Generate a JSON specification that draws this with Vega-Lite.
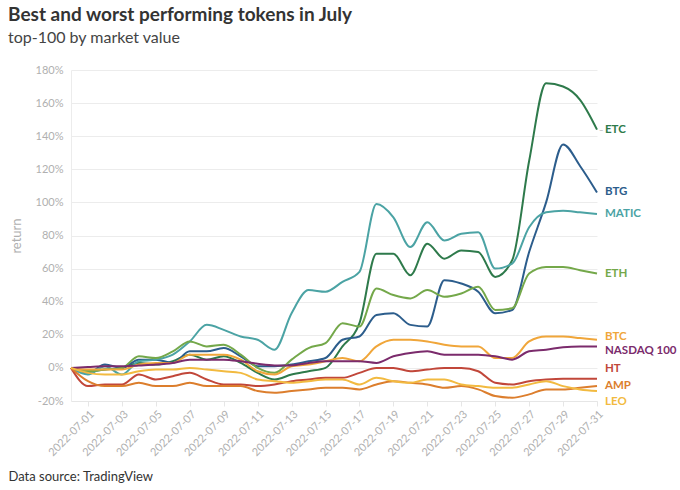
{
"$schema": "https://vega.github.io/schema/vega-lite/v6.json",
"width": 526, "height": 331,
"autosize": {"type": "none"},
"padding": {"left": 71, "top": 70, "right": 83, "bottom": 89},
"background": "white",
"config": {"font": "Lato", "view": {"stroke": null}},
"title": {"text": "Best and worst performing tokens in July", "subtitle": "top-100 by market value", "anchor": "start", "frame": "group", "dx": -63, "fontSize": 19, "fontWeight": "bold", "color": "#333333", "subtitleFontSize": 16, "subtitleColor": "#444444", "subtitlePadding": 5, "offset": 18},
"data": {"values": [
{"date":"2022-06-30","token":"ETC","ret":0},{"date":"2022-07-01","token":"ETC","ret":-2},{"date":"2022-07-02","token":"ETC","ret":-1},{"date":"2022-07-03","token":"ETC","ret":0},{"date":"2022-07-04","token":"ETC","ret":3},{"date":"2022-07-05","token":"ETC","ret":2},{"date":"2022-07-06","token":"ETC","ret":4},{"date":"2022-07-07","token":"ETC","ret":8},{"date":"2022-07-08","token":"ETC","ret":5},{"date":"2022-07-09","token":"ETC","ret":7},{"date":"2022-07-10","token":"ETC","ret":3},{"date":"2022-07-11","token":"ETC","ret":-3},{"date":"2022-07-12","token":"ETC","ret":-7},{"date":"2022-07-13","token":"ETC","ret":-4},{"date":"2022-07-14","token":"ETC","ret":-2},{"date":"2022-07-15","token":"ETC","ret":0},{"date":"2022-07-16","token":"ETC","ret":13},{"date":"2022-07-17","token":"ETC","ret":27},{"date":"2022-07-18","token":"ETC","ret":69},{"date":"2022-07-19","token":"ETC","ret":69},{"date":"2022-07-20","token":"ETC","ret":56},{"date":"2022-07-21","token":"ETC","ret":75},{"date":"2022-07-22","token":"ETC","ret":66},{"date":"2022-07-23","token":"ETC","ret":71},{"date":"2022-07-24","token":"ETC","ret":70},{"date":"2022-07-25","token":"ETC","ret":55},{"date":"2022-07-26","token":"ETC","ret":65},{"date":"2022-07-27","token":"ETC","ret":125},{"date":"2022-07-28","token":"ETC","ret":172},{"date":"2022-07-29","token":"ETC","ret":170},{"date":"2022-07-30","token":"ETC","ret":162},{"date":"2022-07-31","token":"ETC","ret":144},
{"date":"2022-06-30","token":"BTG","ret":0},{"date":"2022-07-01","token":"BTG","ret":-3},{"date":"2022-07-02","token":"BTG","ret":2},{"date":"2022-07-03","token":"BTG","ret":0},{"date":"2022-07-04","token":"BTG","ret":5},{"date":"2022-07-05","token":"BTG","ret":5},{"date":"2022-07-06","token":"BTG","ret":3},{"date":"2022-07-07","token":"BTG","ret":10},{"date":"2022-07-08","token":"BTG","ret":10},{"date":"2022-07-09","token":"BTG","ret":12},{"date":"2022-07-10","token":"BTG","ret":7},{"date":"2022-07-11","token":"BTG","ret":1},{"date":"2022-07-12","token":"BTG","ret":1},{"date":"2022-07-13","token":"BTG","ret":2},{"date":"2022-07-14","token":"BTG","ret":4},{"date":"2022-07-15","token":"BTG","ret":6},{"date":"2022-07-16","token":"BTG","ret":17},{"date":"2022-07-17","token":"BTG","ret":19},{"date":"2022-07-18","token":"BTG","ret":32},{"date":"2022-07-19","token":"BTG","ret":33},{"date":"2022-07-20","token":"BTG","ret":26},{"date":"2022-07-21","token":"BTG","ret":25},{"date":"2022-07-22","token":"BTG","ret":53},{"date":"2022-07-23","token":"BTG","ret":51},{"date":"2022-07-24","token":"BTG","ret":46},{"date":"2022-07-25","token":"BTG","ret":33},{"date":"2022-07-26","token":"BTG","ret":35},{"date":"2022-07-27","token":"BTG","ret":70},{"date":"2022-07-28","token":"BTG","ret":100},{"date":"2022-07-29","token":"BTG","ret":135},{"date":"2022-07-30","token":"BTG","ret":122},{"date":"2022-07-31","token":"BTG","ret":106},
{"date":"2022-06-30","token":"MATIC","ret":0},{"date":"2022-07-01","token":"MATIC","ret":-4},{"date":"2022-07-02","token":"MATIC","ret":1},{"date":"2022-07-03","token":"MATIC","ret":-4},{"date":"2022-07-04","token":"MATIC","ret":4},{"date":"2022-07-05","token":"MATIC","ret":5},{"date":"2022-07-06","token":"MATIC","ret":8},{"date":"2022-07-07","token":"MATIC","ret":16},{"date":"2022-07-08","token":"MATIC","ret":26},{"date":"2022-07-09","token":"MATIC","ret":23},{"date":"2022-07-10","token":"MATIC","ret":19},{"date":"2022-07-11","token":"MATIC","ret":17},{"date":"2022-07-12","token":"MATIC","ret":11},{"date":"2022-07-13","token":"MATIC","ret":33},{"date":"2022-07-14","token":"MATIC","ret":47},{"date":"2022-07-15","token":"MATIC","ret":46},{"date":"2022-07-16","token":"MATIC","ret":52},{"date":"2022-07-17","token":"MATIC","ret":58},{"date":"2022-07-18","token":"MATIC","ret":99},{"date":"2022-07-19","token":"MATIC","ret":91},{"date":"2022-07-20","token":"MATIC","ret":73},{"date":"2022-07-21","token":"MATIC","ret":88},{"date":"2022-07-22","token":"MATIC","ret":77},{"date":"2022-07-23","token":"MATIC","ret":81},{"date":"2022-07-24","token":"MATIC","ret":82},{"date":"2022-07-25","token":"MATIC","ret":60},{"date":"2022-07-26","token":"MATIC","ret":63},{"date":"2022-07-27","token":"MATIC","ret":85},{"date":"2022-07-28","token":"MATIC","ret":94},{"date":"2022-07-29","token":"MATIC","ret":95},{"date":"2022-07-30","token":"MATIC","ret":94},{"date":"2022-07-31","token":"MATIC","ret":93},
{"date":"2022-06-30","token":"ETH","ret":0},{"date":"2022-07-01","token":"ETH","ret":-2},{"date":"2022-07-02","token":"ETH","ret":-1},{"date":"2022-07-03","token":"ETH","ret":0},{"date":"2022-07-04","token":"ETH","ret":7},{"date":"2022-07-05","token":"ETH","ret":6},{"date":"2022-07-06","token":"ETH","ret":10},{"date":"2022-07-07","token":"ETH","ret":16},{"date":"2022-07-08","token":"ETH","ret":13},{"date":"2022-07-09","token":"ETH","ret":14},{"date":"2022-07-10","token":"ETH","ret":8},{"date":"2022-07-11","token":"ETH","ret":0},{"date":"2022-07-12","token":"ETH","ret":-3},{"date":"2022-07-13","token":"ETH","ret":5},{"date":"2022-07-14","token":"ETH","ret":12},{"date":"2022-07-15","token":"ETH","ret":15},{"date":"2022-07-16","token":"ETH","ret":27},{"date":"2022-07-17","token":"ETH","ret":25},{"date":"2022-07-18","token":"ETH","ret":48},{"date":"2022-07-19","token":"ETH","ret":44},{"date":"2022-07-20","token":"ETH","ret":42},{"date":"2022-07-21","token":"ETH","ret":47},{"date":"2022-07-22","token":"ETH","ret":43},{"date":"2022-07-23","token":"ETH","ret":45},{"date":"2022-07-24","token":"ETH","ret":49},{"date":"2022-07-25","token":"ETH","ret":35},{"date":"2022-07-26","token":"ETH","ret":36},{"date":"2022-07-27","token":"ETH","ret":57},{"date":"2022-07-28","token":"ETH","ret":61},{"date":"2022-07-29","token":"ETH","ret":61},{"date":"2022-07-30","token":"ETH","ret":59},{"date":"2022-07-31","token":"ETH","ret":57},
{"date":"2022-06-30","token":"BTC","ret":0},{"date":"2022-07-01","token":"BTC","ret":-1},{"date":"2022-07-02","token":"BTC","ret":-1},{"date":"2022-07-03","token":"BTC","ret":-1},{"date":"2022-07-04","token":"BTC","ret":2},{"date":"2022-07-05","token":"BTC","ret":3},{"date":"2022-07-06","token":"BTC","ret":3},{"date":"2022-07-07","token":"BTC","ret":8},{"date":"2022-07-08","token":"BTC","ret":8},{"date":"2022-07-09","token":"BTC","ret":8},{"date":"2022-07-10","token":"BTC","ret":5},{"date":"2022-07-11","token":"BTC","ret":-2},{"date":"2022-07-12","token":"BTC","ret":-4},{"date":"2022-07-13","token":"BTC","ret":1},{"date":"2022-07-14","token":"BTC","ret":2},{"date":"2022-07-15","token":"BTC","ret":4},{"date":"2022-07-16","token":"BTC","ret":6},{"date":"2022-07-17","token":"BTC","ret":4},{"date":"2022-07-18","token":"BTC","ret":13},{"date":"2022-07-19","token":"BTC","ret":17},{"date":"2022-07-20","token":"BTC","ret":17},{"date":"2022-07-21","token":"BTC","ret":16},{"date":"2022-07-22","token":"BTC","ret":14},{"date":"2022-07-23","token":"BTC","ret":13},{"date":"2022-07-24","token":"BTC","ret":13},{"date":"2022-07-25","token":"BTC","ret":6},{"date":"2022-07-26","token":"BTC","ret":6},{"date":"2022-07-27","token":"BTC","ret":16},{"date":"2022-07-28","token":"BTC","ret":19},{"date":"2022-07-29","token":"BTC","ret":19},{"date":"2022-07-30","token":"BTC","ret":18},{"date":"2022-07-31","token":"BTC","ret":17},
{"date":"2022-06-30","token":"NASDAQ 100","ret":0},{"date":"2022-07-01","token":"NASDAQ 100","ret":0.5},{"date":"2022-07-02","token":"NASDAQ 100","ret":1},{"date":"2022-07-03","token":"NASDAQ 100","ret":1},{"date":"2022-07-04","token":"NASDAQ 100","ret":1.5},{"date":"2022-07-05","token":"NASDAQ 100","ret":2},{"date":"2022-07-06","token":"NASDAQ 100","ret":3},{"date":"2022-07-07","token":"NASDAQ 100","ret":5},{"date":"2022-07-08","token":"NASDAQ 100","ret":5},{"date":"2022-07-09","token":"NASDAQ 100","ret":5},{"date":"2022-07-10","token":"NASDAQ 100","ret":4},{"date":"2022-07-11","token":"NASDAQ 100","ret":2.5},{"date":"2022-07-12","token":"NASDAQ 100","ret":1.5},{"date":"2022-07-13","token":"NASDAQ 100","ret":1.5},{"date":"2022-07-14","token":"NASDAQ 100","ret":3},{"date":"2022-07-15","token":"NASDAQ 100","ret":4},{"date":"2022-07-16","token":"NASDAQ 100","ret":4},{"date":"2022-07-17","token":"NASDAQ 100","ret":4},{"date":"2022-07-18","token":"NASDAQ 100","ret":3},{"date":"2022-07-19","token":"NASDAQ 100","ret":7},{"date":"2022-07-20","token":"NASDAQ 100","ret":9},{"date":"2022-07-21","token":"NASDAQ 100","ret":10},{"date":"2022-07-22","token":"NASDAQ 100","ret":8},{"date":"2022-07-23","token":"NASDAQ 100","ret":8},{"date":"2022-07-24","token":"NASDAQ 100","ret":8},{"date":"2022-07-25","token":"NASDAQ 100","ret":7},{"date":"2022-07-26","token":"NASDAQ 100","ret":5},{"date":"2022-07-27","token":"NASDAQ 100","ret":10},{"date":"2022-07-28","token":"NASDAQ 100","ret":11},{"date":"2022-07-29","token":"NASDAQ 100","ret":12.5},{"date":"2022-07-30","token":"NASDAQ 100","ret":13},{"date":"2022-07-31","token":"NASDAQ 100","ret":13},
{"date":"2022-06-30","token":"HT","ret":0},{"date":"2022-07-01","token":"HT","ret":-11},{"date":"2022-07-02","token":"HT","ret":-10},{"date":"2022-07-03","token":"HT","ret":-10},{"date":"2022-07-04","token":"HT","ret":-4},{"date":"2022-07-05","token":"HT","ret":-7},{"date":"2022-07-06","token":"HT","ret":-5},{"date":"2022-07-07","token":"HT","ret":-3},{"date":"2022-07-08","token":"HT","ret":-7},{"date":"2022-07-09","token":"HT","ret":-10},{"date":"2022-07-10","token":"HT","ret":-10},{"date":"2022-07-11","token":"HT","ret":-11},{"date":"2022-07-12","token":"HT","ret":-10},{"date":"2022-07-13","token":"HT","ret":-8},{"date":"2022-07-14","token":"HT","ret":-7},{"date":"2022-07-15","token":"HT","ret":-6},{"date":"2022-07-16","token":"HT","ret":-6},{"date":"2022-07-17","token":"HT","ret":-3},{"date":"2022-07-18","token":"HT","ret":0},{"date":"2022-07-19","token":"HT","ret":0},{"date":"2022-07-20","token":"HT","ret":-2},{"date":"2022-07-21","token":"HT","ret":-1},{"date":"2022-07-22","token":"HT","ret":0},{"date":"2022-07-23","token":"HT","ret":0},{"date":"2022-07-24","token":"HT","ret":-2},{"date":"2022-07-25","token":"HT","ret":-9},{"date":"2022-07-26","token":"HT","ret":-10},{"date":"2022-07-27","token":"HT","ret":-8},{"date":"2022-07-28","token":"HT","ret":-7},{"date":"2022-07-29","token":"HT","ret":-6.5},{"date":"2022-07-30","token":"HT","ret":-6.5},{"date":"2022-07-31","token":"HT","ret":-6.6},
{"date":"2022-06-30","token":"AMP","ret":0},{"date":"2022-07-01","token":"AMP","ret":-8},{"date":"2022-07-02","token":"AMP","ret":-11},{"date":"2022-07-03","token":"AMP","ret":-11},{"date":"2022-07-04","token":"AMP","ret":-9},{"date":"2022-07-05","token":"AMP","ret":-11},{"date":"2022-07-06","token":"AMP","ret":-11},{"date":"2022-07-07","token":"AMP","ret":-9},{"date":"2022-07-08","token":"AMP","ret":-11},{"date":"2022-07-09","token":"AMP","ret":-11},{"date":"2022-07-10","token":"AMP","ret":-11},{"date":"2022-07-11","token":"AMP","ret":-14},{"date":"2022-07-12","token":"AMP","ret":-15},{"date":"2022-07-13","token":"AMP","ret":-14},{"date":"2022-07-14","token":"AMP","ret":-13},{"date":"2022-07-15","token":"AMP","ret":-12},{"date":"2022-07-16","token":"AMP","ret":-12},{"date":"2022-07-17","token":"AMP","ret":-13},{"date":"2022-07-18","token":"AMP","ret":-10},{"date":"2022-07-19","token":"AMP","ret":-8},{"date":"2022-07-20","token":"AMP","ret":-9},{"date":"2022-07-21","token":"AMP","ret":-10},{"date":"2022-07-22","token":"AMP","ret":-12},{"date":"2022-07-23","token":"AMP","ret":-11},{"date":"2022-07-24","token":"AMP","ret":-13},{"date":"2022-07-25","token":"AMP","ret":-17},{"date":"2022-07-26","token":"AMP","ret":-18},{"date":"2022-07-27","token":"AMP","ret":-16},{"date":"2022-07-28","token":"AMP","ret":-13},{"date":"2022-07-29","token":"AMP","ret":-13},{"date":"2022-07-30","token":"AMP","ret":-12},{"date":"2022-07-31","token":"AMP","ret":-11},
{"date":"2022-06-30","token":"LEO","ret":0},{"date":"2022-07-01","token":"LEO","ret":-3},{"date":"2022-07-02","token":"LEO","ret":-4},{"date":"2022-07-03","token":"LEO","ret":-4},{"date":"2022-07-04","token":"LEO","ret":-2},{"date":"2022-07-05","token":"LEO","ret":-1},{"date":"2022-07-06","token":"LEO","ret":-1},{"date":"2022-07-07","token":"LEO","ret":0},{"date":"2022-07-08","token":"LEO","ret":-1},{"date":"2022-07-09","token":"LEO","ret":-2},{"date":"2022-07-10","token":"LEO","ret":-3},{"date":"2022-07-11","token":"LEO","ret":-7},{"date":"2022-07-12","token":"LEO","ret":-8},{"date":"2022-07-13","token":"LEO","ret":-9},{"date":"2022-07-14","token":"LEO","ret":-8},{"date":"2022-07-15","token":"LEO","ret":-7},{"date":"2022-07-16","token":"LEO","ret":-7},{"date":"2022-07-17","token":"LEO","ret":-10},{"date":"2022-07-18","token":"LEO","ret":-6},{"date":"2022-07-19","token":"LEO","ret":-8},{"date":"2022-07-20","token":"LEO","ret":-9},{"date":"2022-07-21","token":"LEO","ret":-7},{"date":"2022-07-22","token":"LEO","ret":-7},{"date":"2022-07-23","token":"LEO","ret":-10},{"date":"2022-07-24","token":"LEO","ret":-11},{"date":"2022-07-25","token":"LEO","ret":-12},{"date":"2022-07-26","token":"LEO","ret":-12},{"date":"2022-07-27","token":"LEO","ret":-10},{"date":"2022-07-28","token":"LEO","ret":-8},{"date":"2022-07-29","token":"LEO","ret":-11},{"date":"2022-07-30","token":"LEO","ret":-13},{"date":"2022-07-31","token":"LEO","ret":-14}
]},
"encoding": {
  "x": {"field": "date", "type": "temporal",
    "scale": {"type": "utc", "domain": [{"year": 2022, "month": 6, "date": 30, "utc": true}, {"year": 2022, "month": 7, "date": 31, "utc": true}]},
    "axis": {"values": [{"year":2022,"month":7,"date":1,"utc":true},{"year":2022,"month":7,"date":3,"utc":true},{"year":2022,"month":7,"date":5,"utc":true},{"year":2022,"month":7,"date":7,"utc":true},{"year":2022,"month":7,"date":9,"utc":true},{"year":2022,"month":7,"date":11,"utc":true},{"year":2022,"month":7,"date":13,"utc":true},{"year":2022,"month":7,"date":15,"utc":true},{"year":2022,"month":7,"date":17,"utc":true},{"year":2022,"month":7,"date":19,"utc":true},{"year":2022,"month":7,"date":21,"utc":true},{"year":2022,"month":7,"date":23,"utc":true},{"year":2022,"month":7,"date":25,"utc":true},{"year":2022,"month":7,"date":27,"utc":true},{"year":2022,"month":7,"date":29,"utc":true},{"year":2022,"month":7,"date":31,"utc":true}],
      "labelExpr": "utcFormat(datum.value, '%Y-%m-%d')", "labelAngle": -45, "labelAlign": "right", "labelBaseline": "top", "labelOverlap": false, "labelBound": false, "labelFlush": false, "labelColor": "#b0b0b0", "labelFontSize": 11, "labelPadding": 2,
      "grid": false, "domainColor": "#e6e6e6", "tickColor": "#e6e6e6", "tickSize": 5,
      "title": "Data source: TradingView", "titleAnchor": "start", "titleAlign": "left", "titleX": -63, "titleY": 75, "titleBaseline": "middle", "titleColor": "#333333", "titleFontSize": 13, "titleFontWeight": "normal"}},
  "y": {"field": "ret", "type": "quantitative", "scale": {"domain": [-20, 180], "nice": false},
    "axis": {"values": [-20,0,20,40,60,80,100,120,140,160,180], "labelExpr": "datum.value + '%'", "ticks": false, "labelPadding": 8, "labelColor": "#b0b0b0", "labelFontSize": 11, "gridColor": "#ececec", "domainColor": "#ececec", "title": "return", "titleColor": "#b0b0b0", "titleFontSize": 13, "titleFontWeight": "normal", "titlePadding": 12}},
  "color": {"field": "token", "type": "nominal",
    "scale": {"domain": ["ETC","BTG","MATIC","ETH","BTC","NASDAQ 100","HT","AMP","LEO"], "range": ["#2e7a4b","#2c5d8c","#4ba3a4","#74a84a","#f0a63a","#7b2b6c","#c1473a","#dc7e2d","#f2ba40"]},
    "legend": null}
},
"layer": [
  {"mark": {"type": "line", "interpolate": "monotone", "strokeWidth": 2}},
  {"transform": [{"filter": {"field": "token", "oneOf": ["ETC","BTG","MATIC","ETH"]}}],
   "mark": {"type": "text", "align": "left", "baseline": "middle", "dx": 2, "fontSize": 12},
   "encoding": {"x": {"aggregate": "max", "field": "date", "type": "temporal"}, "y": {"aggregate": {"argmax": "date"}, "field": "ret", "type": "quantitative"}, "text": {"value": "-"}, "color": {"value": "#c8c8c8"}}},
  {"transform": [{"filter": {"field": "token", "oneOf": ["ETC","BTG","MATIC","ETH","AMP"]}}],
   "mark": {"type": "text", "align": "left", "baseline": "middle", "dx": 8, "fontSize": 11.5, "fontWeight": "bold"},
   "encoding": {"x": {"aggregate": "max", "field": "date", "type": "temporal"}, "y": {"aggregate": {"argmax": "date"}, "field": "ret", "type": "quantitative"}, "text": {"field": "token"}}},
  {"transform": [{"filter": {"field": "token", "equal": "BTC"}}],
   "mark": {"type": "text", "align": "left", "baseline": "middle", "dx": 8, "dy": -3, "fontSize": 11.5, "fontWeight": "bold"},
   "encoding": {"x": {"aggregate": "max", "field": "date", "type": "temporal"}, "y": {"aggregate": {"argmax": "date"}, "field": "ret", "type": "quantitative"}, "text": {"field": "token"}}},
  {"transform": [{"filter": {"field": "token", "equal": "NASDAQ 100"}}],
   "mark": {"type": "text", "align": "left", "baseline": "middle", "dx": 8, "dy": 5, "fontSize": 11.5, "fontWeight": "bold"},
   "encoding": {"x": {"aggregate": "max", "field": "date", "type": "temporal"}, "y": {"aggregate": {"argmax": "date"}, "field": "ret", "type": "quantitative"}, "text": {"field": "token"}}},
  {"transform": [{"filter": {"field": "token", "equal": "HT"}}],
   "mark": {"type": "text", "align": "left", "baseline": "middle", "dx": 8, "dy": -10, "fontSize": 11.5, "fontWeight": "bold"},
   "encoding": {"x": {"aggregate": "max", "field": "date", "type": "temporal"}, "y": {"aggregate": {"argmax": "date"}, "field": "ret", "type": "quantitative"}, "text": {"field": "token"}}},
  {"transform": [{"filter": {"field": "token", "equal": "LEO"}}],
   "mark": {"type": "text", "align": "left", "baseline": "middle", "dx": 8, "dy": 11, "fontSize": 11.5, "fontWeight": "bold"},
   "encoding": {"x": {"aggregate": "max", "field": "date", "type": "temporal"}, "y": {"aggregate": {"argmax": "date"}, "field": "ret", "type": "quantitative"}, "text": {"field": "token"}}}
]
}
